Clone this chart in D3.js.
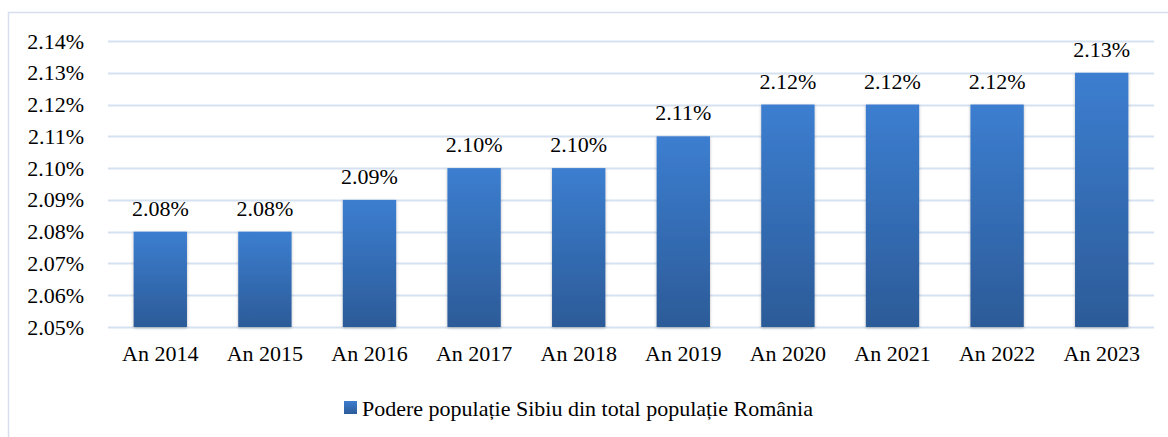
<!DOCTYPE html>
<html>
<head>
<meta charset="utf-8">
<script src="https://cdn.jsdelivr.net/npm/d3@7"></script>
<style>
  body { margin: 0; background: #fff; }
  .serif { font-family: 'Liberation Serif', 'Times New Roman', 'DejaVu Serif', serif; }
</style>
</head>
<body>
<svg id="chart"></svg>
<script>
// data
const categories = ["An 2014", "An 2015", "An 2016", "An 2017", "An 2018",
  "An 2019", "An 2020", "An 2021", "An 2022", "An 2023"];
const values = [2.08, 2.08, 2.09, 2.10, 2.10, 2.11, 2.12, 2.12, 2.12, 2.13];
const yTicks = [2.05, 2.06, 2.07, 2.08, 2.09, 2.10, 2.11, 2.12, 2.13, 2.14];
const seriesName = "Podere populație Sibiu din total populație România";

const width = 1168, height = 437;
const margin = { left: 108, right: 14, top: 41, bottom: 110 };
const fontFam = "'Liberation Serif', 'Times New Roman', serif";

const svg = d3.select("#chart").attr("width", width).attr("height", height);

// outer frame (chart area border, cut off on right/bottom)
svg.append("rect")
  .attr("x", 8.5).attr("y", 12.5)
  .attr("width", width).attr("height", height)
  .attr("fill", "none")
  .attr("stroke", "#d5dfef")
  .attr("stroke-width", 1.5);

const defs = svg.append("defs");
const grad = defs.append("linearGradient")
  .attr("id", "barGrad")
  .attr("x1", 0).attr("y1", 0).attr("x2", 0).attr("y2", 1);
grad.append("stop").attr("offset", "0%").attr("stop-color", "#3c7ed0");
grad.append("stop").attr("offset", "100%").attr("stop-color", "#2c5b98");

const shadow = defs.append("filter").attr("id", "shadow")
  .attr("x", "-20%").attr("y", "-10%").attr("width", "140%").attr("height", "120%");
shadow.append("feDropShadow")
  .attr("dx", 0).attr("dy", 1).attr("stdDeviation", 1.6)
  .attr("flood-color", "#000").attr("flood-opacity", 0.28);

const x = d3.scaleBand()
  .domain(categories)
  .range([margin.left, width - margin.right])
  .paddingInner(0.49)
  .paddingOuter(0.245);

const y = d3.scaleLinear()
  .domain([2.05, 2.14])
  .range([height - margin.bottom, margin.top]);

// gridlines
svg.append("g")
  .selectAll("line")
  .data(yTicks)
  .join("line")
  .attr("x1", margin.left)
  .attr("x2", width - margin.right)
  .attr("y1", d => Math.round(y(d)) + 0.5)
  .attr("y2", d => Math.round(y(d)) + 0.5)
  .attr("stroke", "#d6e1f1")
  .attr("stroke-width", 2);

// y axis labels
const yAxis = d3.axisLeft(y)
  .tickValues(yTicks)
  .tickFormat(d => d.toFixed(2) + "%")
  .tickSize(0)
  .tickPadding(24);

svg.append("g")
  .attr("transform", `translate(${margin.left},0)`)
  .call(yAxis)
  .attr("font-family", null)
  .attr("font-size", 22)
  .attr("class", "serif")
  .call(g => g.select(".domain").remove())
  .selectAll("text")
  .attr("fill", "#000");

// bars
svg.append("g")
  .selectAll("rect")
  .data(values)
  .join("rect")
  .attr("x", (d, i) => x(categories[i]))
  .attr("y", d => y(d))
  .attr("width", x.bandwidth())
  .attr("height", d => y(2.05) - y(d))
  .attr("fill", "url(#barGrad)")
  .attr("filter", "url(#shadow)");

// value labels
svg.append("g")
  .attr("class", "serif")
  .selectAll("text")
  .data(values)
  .join("text")
  .attr("x", (d, i) => x(categories[i]) + x.bandwidth() / 2)
  .attr("y", d => y(d) - 16)
  .attr("text-anchor", "middle")
  .style("font-family", fontFam)
  .style("font-size", "22px")
  .attr("fill", "#000")
  .text(d => d.toFixed(2) + "%");

// x axis labels
const xAxis = d3.axisBottom(x).tickSize(0).tickPadding(18);
svg.append("g")
  .attr("transform", `translate(0,${y(2.05)})`)
  .call(xAxis)
  .attr("font-family", null)
  .attr("font-size", 22)
  .attr("class", "serif")
  .call(g => g.select(".domain").remove())
  .selectAll("text")
  .attr("fill", "#000");

// legend
const legend = svg.append("g").attr("transform", "translate(344,401)");
legend.append("rect")
  .attr("width", 13).attr("height", 13)
  .attr("fill", "url(#barGrad)");
legend.append("text")
  .attr("x", 18).attr("y", 15)
  .style("font-family", fontFam)
  .style("font-size", "22px")
  .attr("fill", "#000")
  .text(seriesName);
</script>
</body>
</html>
